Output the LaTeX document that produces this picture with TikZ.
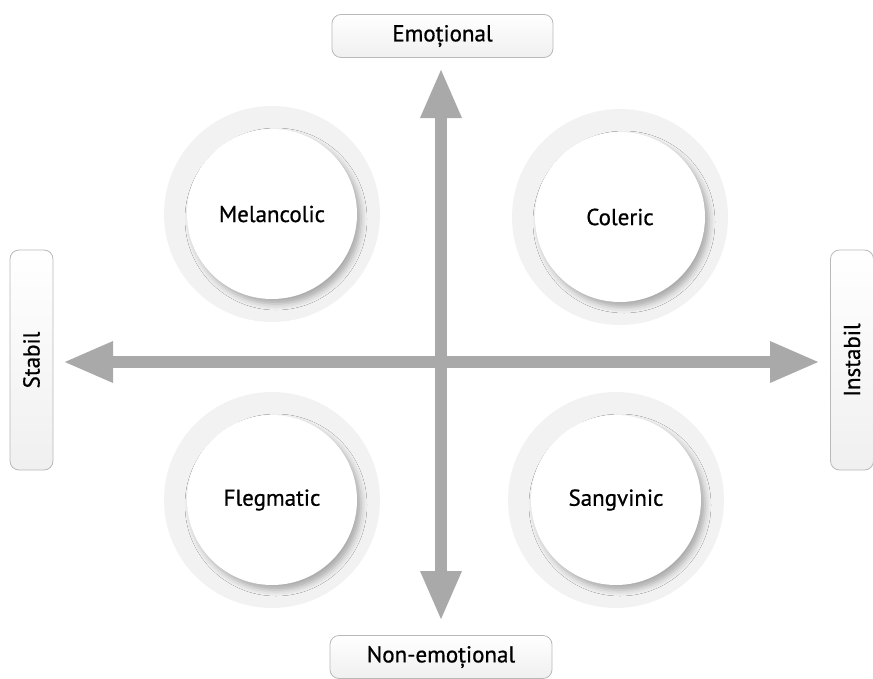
\documentclass[tikz,border=0pt]{standalone}
\usepackage{fontspec}
\setmainfont{PT Sans}[FakeBold=0.7]
\usetikzlibrary{arrows.meta,shadows.blur}
\definecolor{axisgray}{HTML}{A9A9A9}
\definecolor{ringgray}{HTML}{F2F2F2}
\begin{document}
\begin{tikzpicture}[x=1pt,y=-1pt,>={Triangle[width=38pt,length=50pt]},
    axis/.style={draw=axisgray, line width=12pt},
    tagbox/.style={draw=gray!55, line width=.8pt, rounded corners=9pt, top color=white, bottom color=gray!12, minimum height=43pt, font=\fontsize{23}{27}\selectfont},
    disc/.style={circle, fill=white, minimum size=170pt, inner sep=0pt, font=\fontsize{23}{27}\selectfont, blur shadow={shadow xshift=4pt, shadow yshift=-5pt, shadow blur radius=6pt, shadow opacity=30}}]
\useasboundingbox (0,0) rectangle (873,678);

% rings round the temperaments
\foreach \p in {(272,214),(620,217),(272,500),(616,500)}
    \fill[ringgray] \p circle (108pt);

\node[disc] (mel) at (272,214) {Melancolic};
\node[disc] (col) at (620,217) {Coleric};
\node[disc] (fleg) at (272,500) {Flegmatic};
\node[disc] (sang) at (616,500) {Sangvinic};

\node[tagbox, minimum width=221pt] (emo) at (442.5,36) {Emoțional};
\node[tagbox, minimum width=222pt] (nonemo) at (441,657) {Non-emoțional};
\node[tagbox, minimum width=220pt, rotate=90] (stab) at (31.5,360) {Stabil};
\node[tagbox, minimum width=220pt, rotate=90] (instab) at (852,360) {Instabil};

\coordinate (W) at (63,362);
\coordinate (E) at (820,362);
\coordinate (N) at (441,68);
\coordinate (S) at (441,621);
\draw[axis,<->] (W) -- (E);
\draw[axis,<->] (S) -- (N);
\end{tikzpicture}
\end{document}
